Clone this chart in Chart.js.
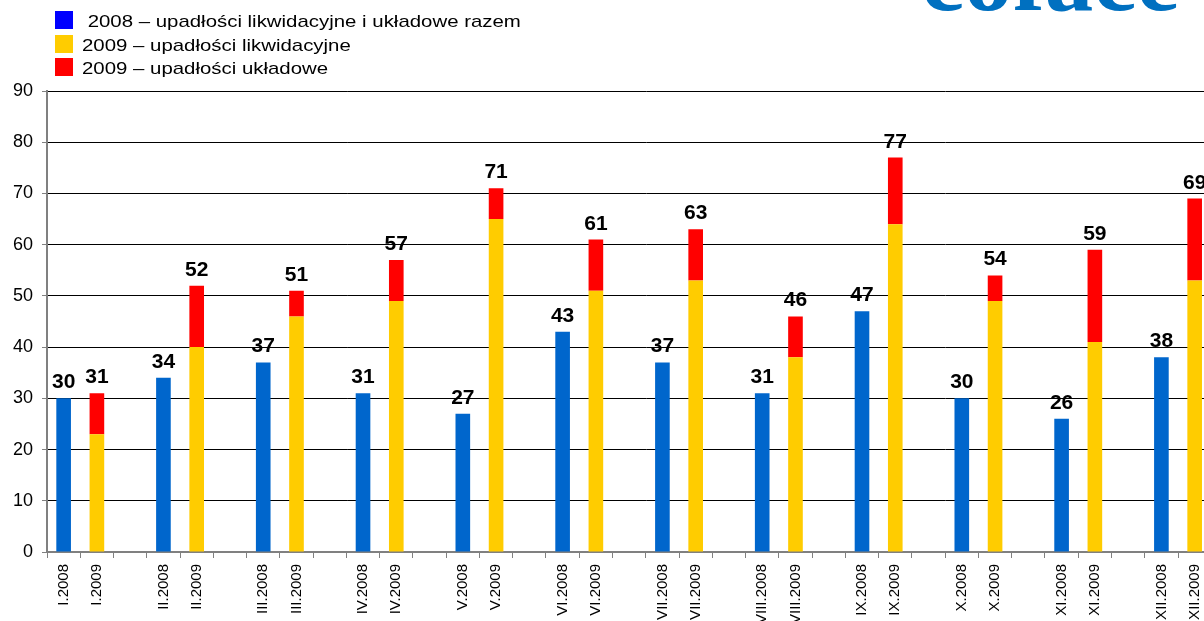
<!DOCTYPE html>
<html>
<head>
<meta charset="utf-8">
<script src="https://cdn.jsdelivr.net/npm/chart.js@4"></script>
<style>
  html, body { margin: 0; padding: 0; background: #fff; overflow: hidden; }
  #wrap { position: relative; width: 1252px; height: 621px; }
</style>
</head>
<body>
<div id="wrap"><canvas id="upadlosci"></canvas></div>
<script>
// upadlosci 2008 vs 2009, miesiecznie
const months = ['I','II','III','IV','V','VI','VII','VIII','IX','X','XI','XII'];
const total2008 = [30, 34, 37, 31, 27, 43, 37, 31, 47, 30, 26, 38];
const likw2009 = [23, 40, 46, 49, 65, 51, 53, 38, 64, 49, 41, 53];
const ukl2009 = [8, 12, 5, 8, 6, 10, 10, 8, 13, 5, 18, 16];
const yTicks = [0, 10, 20, 30, 40, 50, 60, 70, 80, 90];

const seriesLabels = [' 2008 – upadłości likwidacyjne i układowe razem',
  '2009 – upadłości likwidacyjne', '2009 – upadłości układowe'];
const barColors = ['#0066cc', '#ffcc00', '#ff0000'];
const legendColors = ['#0000ff', '#ffcc00', '#ff0000'];

const FONT = "'Liberation Sans', Arial, sans-serif";

// 3 slots per month: 2008, 2009, empty gap
let labels = [];
let d2008 = [], dLikw = [], dUkl = [];
months.forEach(function(m, i) {
  labels.push(m + '.2008', m + '.2009', '');
  d2008.push(total2008[i], null, null);
  dLikw.push(null, likw2009[i], null);
  dUkl.push(null, ukl2009[i], null);
});

const valueLabels = {
  id: 'valueLabels',
  afterDatasetsDraw: function(chart) {
    const ctx = chart.ctx;
    const m0 = chart.getDatasetMeta(0);
    const m2 = chart.getDatasetMeta(2);
    ctx.save();
    ctx.font = 'bold 21px ' + FONT;
    ctx.fillStyle = '#000';
    ctx.textAlign = 'center';
    ctx.textBaseline = 'alphabetic';
    for (let i = 0; i < months.length; i++) {
      let b = m0.data[i * 3];
      ctx.fillText(String(total2008[i]), b.x, b.y - 10);
      let t = m2.data[i * 3 + 1];
      ctx.fillText(String(likw2009[i] + ukl2009[i]), t.x, t.y - 10);
    }
    ctx.restore();
  }
};

const sideLegend = {
  id: 'sideLegend',
  afterDraw: function(chart) {
    const ctx = chart.ctx;
    ctx.save();
    const rows = [11, 35, 58];
    for (let j = 0; j < seriesLabels.length; j++) {
      ctx.fillStyle = legendColors[j];
      ctx.fillRect(55, rows[j], 18, 18);
      // the legend text in the original is a bit wider than normal
      ctx.save();
      ctx.translate(82, rows[j] + 11);
      ctx.scale(1.2, 1);
      ctx.font = '17px ' + FONT;
      ctx.textBaseline = 'middle';
      ctx.textAlign = 'left';
      ctx.fillStyle = '#000';
      ctx.fillText(seriesLabels[j], 0, 0);
      ctx.restore();
    }
    // logo, cut off at the top like in the original
    ctx.fillStyle = '#0070c0';
    ctx.font = 'bold 97px "Liberation Serif", "Times New Roman", serif';
    ctx.textBaseline = 'alphabetic';
    ctx.fillText('coface', 921, 10);
    ctx.restore();
  }
};

new Chart(document.getElementById('upadlosci'), {
  type: 'bar',
  data: {
    labels: labels,
    datasets: [
      { label: seriesLabels[0], data: d2008, backgroundColor: barColors[0], stack: 's' },
      { label: seriesLabels[1], data: dLikw, backgroundColor: barColors[1], stack: 's' },
      { label: seriesLabels[2], data: dUkl, backgroundColor: barColors[2], stack: 's' }
    ]
  },
  options: {
    responsive: true,
    maintainAspectRatio: false,
    animation: false,
    layout: { padding: { top: 91, right: 5, left: 0, bottom: 0 } },
    datasets: { bar: { barPercentage: 0.44, categoryPercentage: 1.0 } },
    plugins: {
      legend: { display: false },
      tooltip: { enabled: false }
    },
    scales: {
      x: {
        stacked: true,
        afterFit: function(scale) { scale.height = 69; },
        grid: { offset: true, drawOnChartArea: false, tickLength: 6, tickColor: '#808080' },
        border: { color: '#808080', width: 2 },
        ticks: {
          autoSkip: false, minRotation: 90, maxRotation: 90,
          padding: 6, color: '#000', font: { family: FONT, size: 15 }
        }
      },
      y: {
        stacked: true,
        min: 0, max: 90,
        afterFit: function(scale) { scale.width = 47; },
        afterBuildTicks: function(scale) { scale.ticks = yTicks.map(v => ({ value: v })); },
        grid: {
          color: function(c) { return c.tick && c.tick.value === 0 ? '#808080' : '#000'; },
          tickLength: 5, tickColor: '#808080'
        },
        border: { color: '#808080', width: 2 },
        ticks: { padding: 9, color: '#000', font: { family: FONT, size: 18 } }
      }
    }
  },
  plugins: [valueLabels, sideLegend]
});
</script>
</body>
</html>
